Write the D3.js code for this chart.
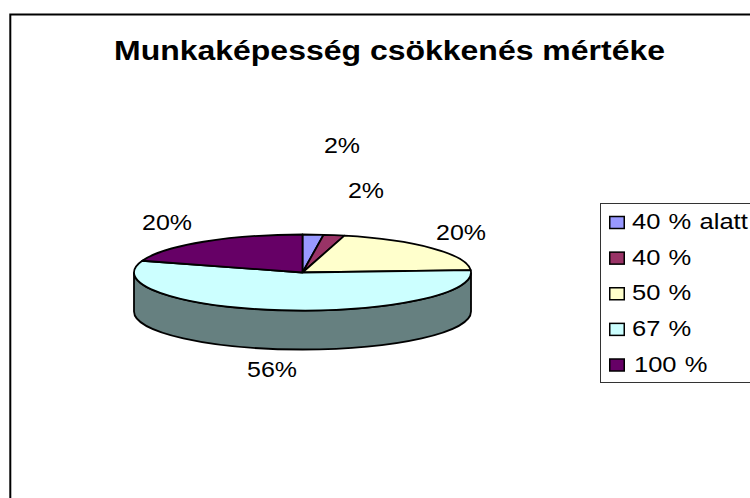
<!DOCTYPE html>
<html><head><meta charset="utf-8">
<script src="https://cdn.jsdelivr.net/npm/d3@7"></script>
<style>html,body{margin:0;padding:0;background:#fff}svg{display:block}text{font-family:"Liberation Sans",Arial,sans-serif;fill:#000}</style>
</head><body><svg id="c" width="750" height="498"></svg>
<script>
const title = "Munkaképesség csökkenés mértéke";
const categories = ["40 % alatt","40 %","50 %","67 %","100 %"];
const values = [2,2,20,56,20];
const labels = ["2%","2%","20%","56%","20%"];
const colors = ["#9999ff","#993366","#ffffcc","#ccffff","#660066"];
const sideColor = "#668080";
const labelPos = [[342,145],[366,190],[461,232],[272,369],[167,222]];

const svg = d3.select("#c");
const cx=302.5, cy=272.5, rx=168.5, ry=38, depth=39;
const sx=d3.scaleLinear().domain([-1,1]).range([cx-rx,cx+rx]);
const sy=d3.scaleLinear().domain([-1,1]).range([cy-ry,cy+ry]);
svg.append("path").attr("d","M10.3,498V14.5H750").attr("fill","none").attr("stroke","#000").attr("stroke-width",2);
svg.append("text").attr("x",389.5).attr("y",60).attr("text-anchor","middle").attr("font-size",28).attr("font-weight","bold")
  .attr("textLength",551).attr("lengthAdjust","spacingAndGlyphs").text(title);

const pie=d3.pie().sort(null)(values);
const px=a=>sx(Math.sin(a)), py=a=>sy(-Math.cos(a));
const sideD=`M${cx+rx},${cy}V${cy+depth}A${rx},${ry} 0 0 1 ${cx-rx},${cy+depth}V${cy}A${rx},${ry} 0 0 0 ${cx+rx},${cy}Z`;
svg.append("path").attr("d",sideD).attr("fill",sideColor).attr("stroke","#000").attr("stroke-width",1.8);
svg.selectAll("path.s").data(pie).join("path").attr("class","s")
 .attr("d",d=>{const l=d.endAngle-d.startAngle>Math.PI?1:0;
   return `M${cx},${cy}L${px(d.startAngle)},${py(d.startAngle)}A${rx},${ry} 0 ${l} 1 ${px(d.endAngle)},${py(d.endAngle)}Z`;})
 .attr("fill",(d,i)=>colors[i]).attr("stroke","#000").attr("stroke-width",1.8).attr("stroke-linejoin","round");
svg.selectAll("text.l").data(labels).join("text").attr("class","l")
 .attr("transform",(d,i)=>`translate(${labelPos[i][0]},${labelPos[i][1]}) scale(1.136,1)`).attr("dy","0.35em")
 .attr("text-anchor","middle").attr("font-size",22).text(d=>d);
svg.append("rect").attr("x",600.5).attr("y",203.5).attr("width",170).attr("height",179).attr("fill","#fff").attr("stroke","#333").attr("stroke-width",1);
const ly=d3.scalePoint().domain(categories).range([222.5,365]);
const g=svg.selectAll("g.k").data(categories).join("g").attr("class","k").attr("transform",d=>`translate(0,${ly(d)})`);
g.append("rect").attr("x",609.75).attr("y",-6).attr("width",14.5).attr("height",12).attr("fill",(d,i)=>colors[i]).attr("stroke","#000").attr("stroke-width",1.5);
g.append("text").attr("transform",(d,i)=>`translate(${i===4?634:632},0) scale(1.16,1)`).attr("dy","0.3em").attr("word-spacing",1).attr("font-size",22).text(d=>d);
</script></body></html>
